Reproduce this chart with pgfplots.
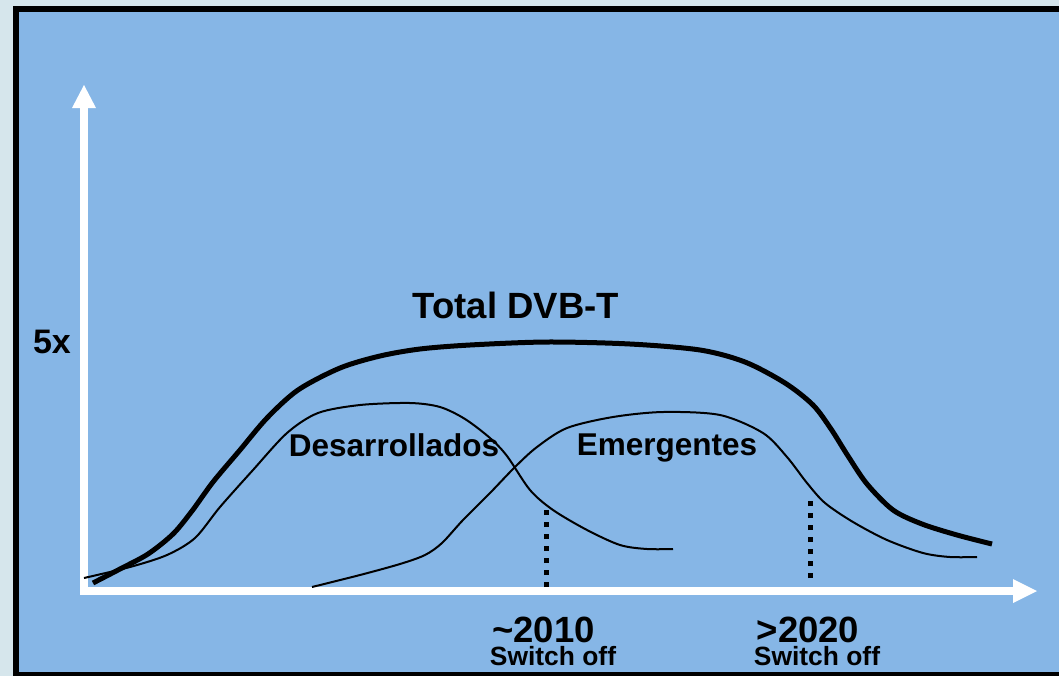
\documentclass[border=0pt]{standalone}
\usepackage{pgfplots}
\pgfplotsset{compat=1.18}
\usepackage{fontspec}
\setmainfont{Liberation Sans}
\definecolor{outerbg}{RGB}{214,230,236}
\definecolor{panel}{RGB}{134,182,230}
\begin{document}
\begin{tikzpicture}
\path[use as bounding box, clip] (0,0) rectangle (1059pt,675pt);
\begin{axis}[
  scale only axis, width=1059pt, height=675pt,
  xmin=0, xmax=1059, ymin=0, ymax=675, y dir=reverse,
  axis lines=none, clip=false,
  every node/.style={font=\bfseries, inner sep=0pt}
]
% background and frame
\fill[outerbg] (axis cs:-10,-10) rectangle (axis cs:1070,690);
\fill[black] (axis cs:13,6) rectangle (axis cs:1075,690);
\fill[panel] (axis cs:19,12) rectangle (axis cs:1070,672);
% white axes with arrowheads
\draw[white, line width=8pt] (axis cs:84,591) -- (axis cs:84,106);
\fill[white] (axis cs:84,85) -- (axis cs:72,108) -- (axis cs:96,108) -- cycle;
\draw[white, line width=8pt] (axis cs:80,591) -- (axis cs:1015,591);
\fill[white] (axis cs:1037,591) -- (axis cs:1013,579) -- (axis cs:1013,603) -- cycle;

% Total DVB-T
\addplot[black, line width=5pt, smooth] coordinates {
(93,583) (120,569) (148,554) (173,534) (192,511) (213,482) (240,450) (267,418)
(298,390) (340,368) (380,356) (420,349) (470,345) (547,342) (630,344) (700,350)
(745,362) (785,383) (813,405) (831,429) (848,456) (867,484) (893,510) (922,524)
(957,535) (992,544)};
% Desarrollados
\addplot[black, line width=2pt, smooth] coordinates {
(84,578) (130,567) (167,555) (195,538) (220,507) (253,470) (287,433) (318,413)
(360,405) (410,403) (440,407) (465,419) (490,438) (507,456) (530,490) (553,510)
(587,530) (620,545) (647,549) (673,549)};
% Emergentes
\addplot[black, line width=2pt, smooth] coordinates {
(312,587) (360,575) (400,564) (425,555) (442,543) (463,520) (490,493) (515,467)
(537,447) (567,428) (613,417) (663,412) (720,415) (763,433) (787,457) (807,483)
(825,503) (853,522) (887,540) (923,553) (950,557) (977,557)};
% switch-off markers
\addplot[black, line width=5pt, dash pattern=on 5pt off 7pt] coordinates {(546,587) (546,506)};
\addplot[black, line width=5pt, dash pattern=on 5pt off 7pt] coordinates {(810,578) (810,500)};

% labels
\node[anchor=base, font=\bfseries\fontsize{36.5}{40}\selectfont] at (axis cs:516,318) {Total DVB-T};
\node[anchor=base, font=\bfseries\fontsize{34}{38}\selectfont] at (axis cs:52,353) {5x};
\node[anchor=base, font=\bfseries\fontsize{31.5}{36}\selectfont] at (axis cs:394,456) {Desarrollados};
\node[anchor=base, font=\bfseries\fontsize{31.5}{36}\selectfont] at (axis cs:667,455) {Emergentes};
\node[anchor=base, font=\bfseries\fontsize{36.5}{40}\selectfont] at (axis cs:543.5,642) {\textasciitilde2010};
\node[anchor=base, font=\bfseries\fontsize{26.4}{30}\selectfont] at (axis cs:553,665) {Switch off};
\node[anchor=base, font=\bfseries\fontsize{36.5}{40}\selectfont] at (axis cs:808,642) {>2020};
\node[anchor=base, font=\bfseries\fontsize{26.4}{30}\selectfont] at (axis cs:817,665) {Switch off};
\end{axis}
\end{tikzpicture}
\end{document}
